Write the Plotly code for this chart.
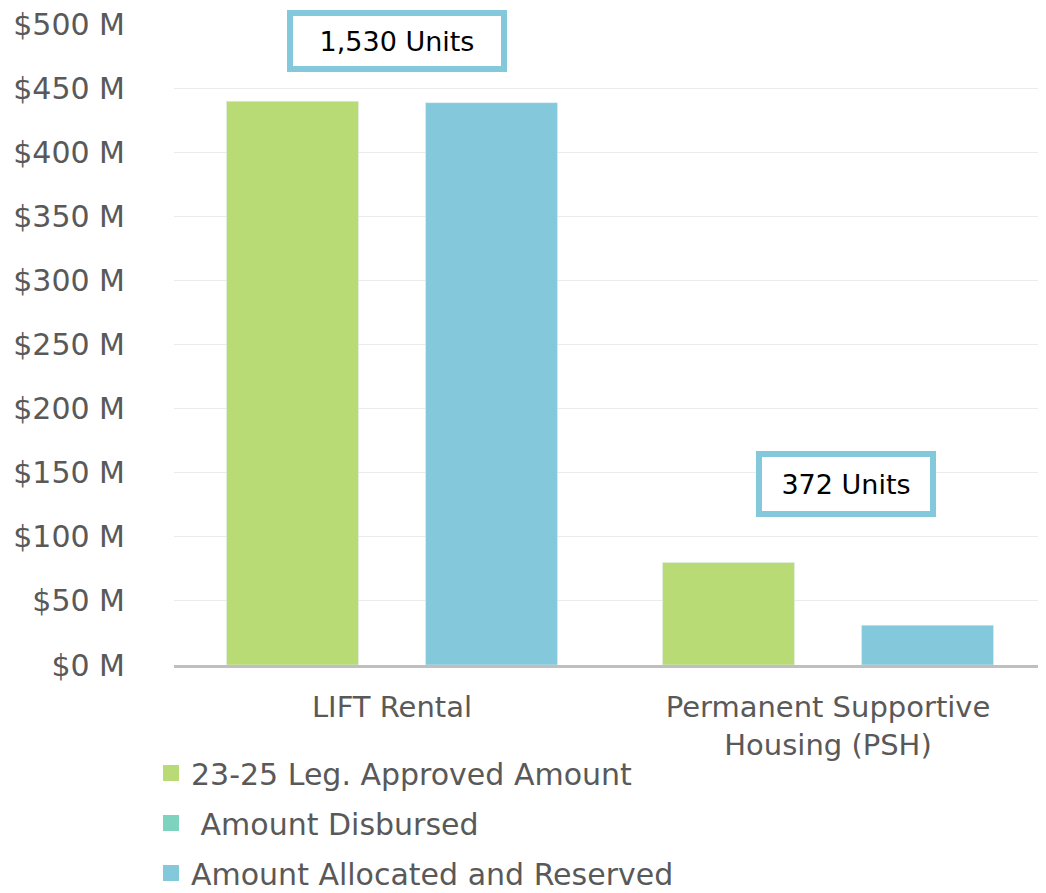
import plotly.graph_objects as go

categories = ["LIFT Rental", "Permanent Supportive<br>Housing (PSH)"]
approved = [440, 80]          # $M, 23-25 Leg. Approved Amount
disbursed = [None, None]      # no bars shown
allocated = [439, 31]         # $M, Amount Allocated and Reserved
unit_labels = ["1,530 Units", "372 Units"]
y_ticks = [0, 50, 100, 150, 200, 250, 300, 350, 400, 450, 500]
y_tick_text = [f"${v} M" for v in y_ticks]

GREEN = "#B9DB75"
TEAL = "#7DD3BE"
BLUE = "#84C9DB"
GRAY = "#595959"
FONT = "DejaVu Sans"

fig = go.Figure()
fig.add_trace(go.Bar(x=categories, y=approved, marker_color=GREEN,
                     name="23-25 Leg. Approved Amount", showlegend=False))
fig.add_trace(go.Bar(x=categories, y=allocated, marker_color=BLUE,
                     name="Amount Allocated and Reserved", showlegend=False))

legend_items = [("23-25 Leg. Approved Amount", GREEN),
                ("\u00a0Amount Disbursed", TEAL),
                ("Amount Allocated and Reserved", BLUE)]
for i, (nm, col) in enumerate(legend_items):
    fig.add_trace(go.Scatter(x=[None], y=[None], mode="markers", name=nm,
                             marker=dict(symbol="square", size=17, color=col),
                             legendgroup=f"g{i}", showlegend=True))

ann_y = [487.5, 141]
ann_shift = [5, 18]
ann_w = [208, 168]
ann_h = [50, 54]
for i in range(2):
    fig.add_annotation(x=categories[i], y=ann_y[i], xref="x", yref="y",
                       text=unit_labels[i], showarrow=False,
                       font=dict(family=FONT, size=27, color="#000000"),
                       bordercolor=BLUE, borderwidth=6, borderpad=0,
                       bgcolor="white", width=ann_w[i], height=ann_h[i],
                       xshift=ann_shift[i])

W, H = 1038, 905
fig.update_layout(
    width=W, height=H,
    margin=dict(l=166, r=0, t=16, b=H - 16 - 641, autoexpand=False),
    paper_bgcolor="white", plot_bgcolor="white",
    barmode="group", bargap=0.087, bargroupgap=0.337,
    font=dict(family=FONT, size=28, color=GRAY),
    showlegend=True,
    legend=dict(orientation="v", xref="container", yref="container",
                x=143 / W, y=1 - 739 / H, xanchor="left", yanchor="top",
                font=dict(family=FONT, size=30, color=GRAY),
                tracegroupgap=8, bgcolor="rgba(0,0,0,0)"),
)
fig.update_yaxes(range=[0, 500.4], tickvals=y_ticks, ticktext=y_tick_text,
                 showgrid=True, gridcolor="#EBEBEB", gridwidth=1,
                 zeroline=False, showline=False, ticks="",
                 ticklabelstandoff=48, automargin=False,
                 ticklabeloverflow="allow",
                 tickfont=dict(family=FONT, size=30, color=GRAY))
fig.update_xaxes(showline=True, linecolor="#BFBFBF", linewidth=3,
                 ticks="", ticklabelstandoff=14, automargin=False,
                 tickangle=0,
                 tickfont=dict(family=FONT, size=29, color=GRAY))

fig.write_html("out.html")
